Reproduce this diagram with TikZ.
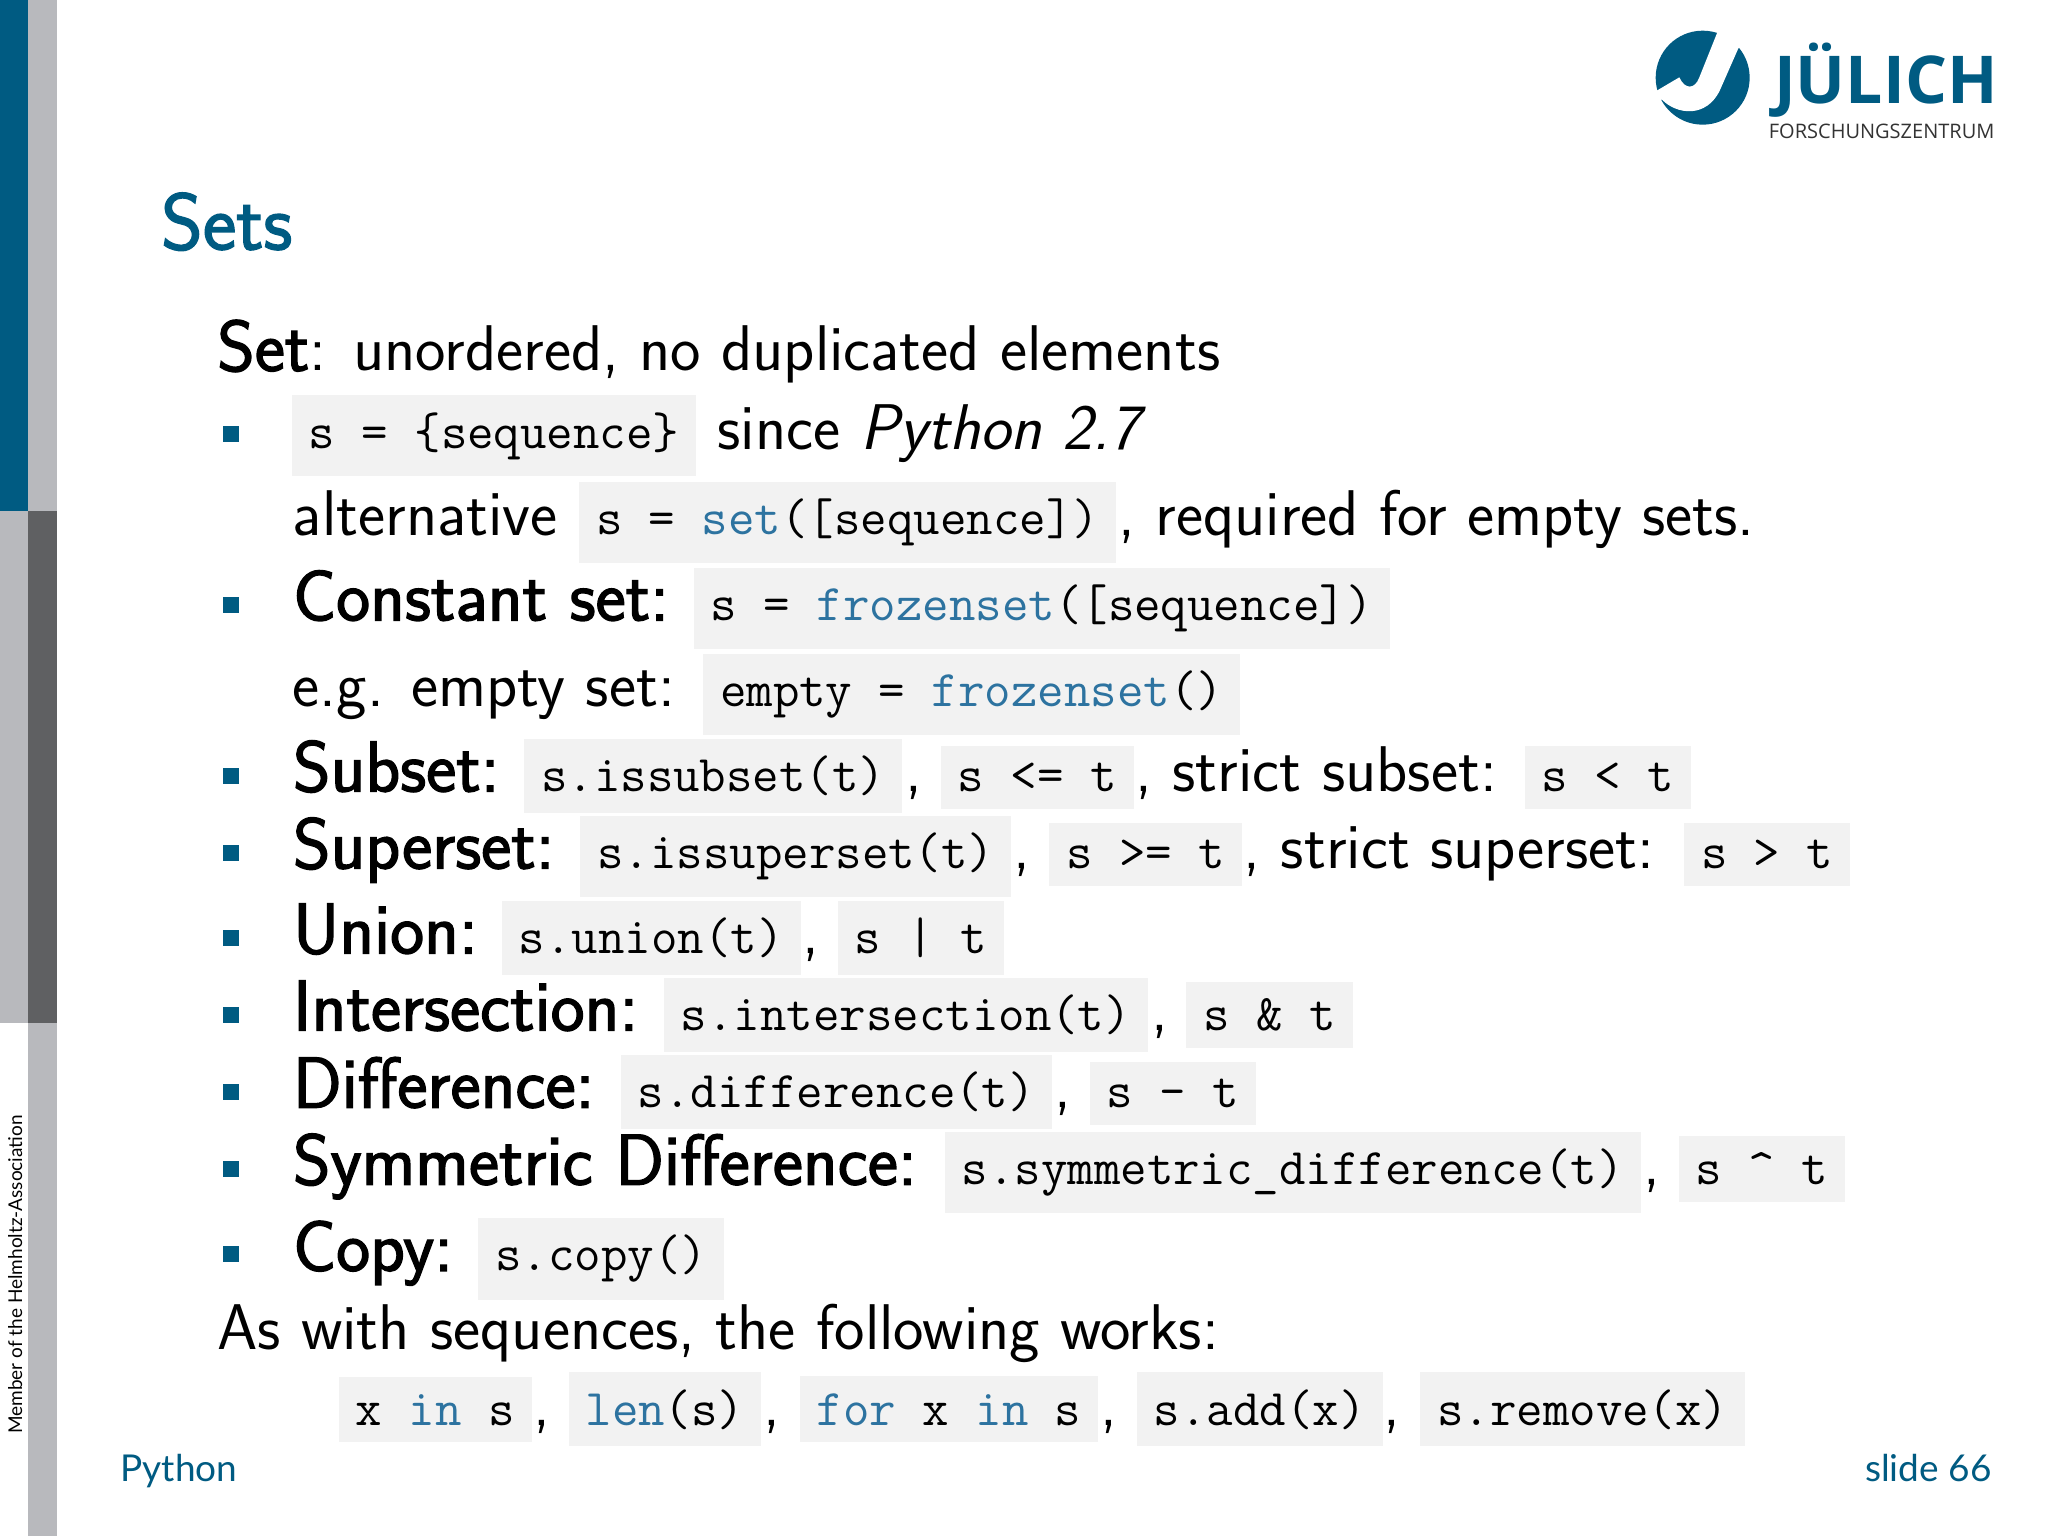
\documentclass[tikz,border=0pt]{standalone}
\usepackage{fontspec}
\usepackage{tikz}
\newfontfamily\footfont{Lato}
\newfontfamily\logofont{Open Sans}
\newfontfamily\headfont[FakeBold=1.8]{Latin Modern Sans}
\definecolor{fzblue}{RGB}{0,91,130}
\definecolor{barblue}{RGB}{0,91,130}
\definecolor{bargray}{RGB}{184,185,189}
\definecolor{bardark}{RGB}{95,96,98}
\definecolor{codegray}{RGB}{242,242,242}
\definecolor{keyblue}{RGB}{45,115,160}
\newcommand{\kw}[1]{\textcolor{keyblue}{#1}}
\tikzset{
  plaintext/.style={anchor=base west, inner sep=0pt, font=\sffamily\fontsize{32.3}{38}\selectfont},
  headtext/.style={anchor=base west, inner sep=0pt, font=\headfont\fontsize{36}{42}\selectfont},
  codebox/.style={anchor=base west, fill=codegray, inner xsep=8.5pt, inner ysep=8.5pt, font=\ttfamily\fontsize{25.7}{30}\selectfont},
  bulletbox/.style={fill=fzblue, minimum size=8pt, inner sep=0pt},
  foottext/.style={inner sep=0pt, text=fzblue, font=\footfont\fontsize{18.5}{22}\selectfont}
}
\begin{document}
\begin{tikzpicture}[x=0.65306pt,y=-0.65306pt]
  \useasboundingbox (0,0) rectangle (1568,1176);
  \fill[white] (0,0) rectangle (1568,1176);

  % Side bar
  \fill[barblue] (0,0) rectangle (21.5,391);
  \fill[bargray] (21.5,0) rectangle (43.4,391);
  \fill[bargray] (0,391) rectangle (21.5,783);
  \fill[bardark] (21.5,391) rectangle (43.4,783);
  \fill[bargray] (21.5,783) rectangle (43.4,1176);
  \node[rotate=90, anchor=base west, inner sep=0pt, font=\footfont\fontsize{9.5}{12}\selectfont] (member) at (17,1098) {Member of the Helmholtz-Association};

  % Logo
  \begin{scope}[shift={(1240.3,0)},x=0.16667pt,y=-0.16667pt]
    \fill[fzblue] (248,233) circle (141);
    \fill[white] (285,70) -- (292,97) -- (238,232) .. controls (225,268) and (195,270) .. (178,232) -- (100,278) -- (118,305) -- (125,298)
      .. controls (170,345) and (260,355) .. (300,270) -- (355,145) -- (375,130) -- cycle;
  \end{scope}
  \node[anchor=base west, inner sep=0pt, text=fzblue, font=\logofont\bfseries\fontsize{33}{36}\selectfont] (julich) at (1358,79) {JÜLICH};
  \node[anchor=base west, inner sep=0pt, text=black!80, font=\logofont\fontsize{10}{12}\selectfont] (forschung) at (1354,106) {FORSCHUNGSZENTRUM};

  % Title
  \node[anchor=base west, inner sep=0pt, text=fzblue, font=\headfont\fontsize{40}{44}\selectfont] (title) at (123,191) {Sets};

  % Set
  \node[plaintext] (setline) at (166,284) {{\headfont\fontsize{36}{42}\selectfont Set}: unordered, no duplicated elements};

  \foreach \y [count=\i] in {332,463,594,653,718,777,836,895,960}
    \node[bulletbox] (bullet\i) at (177,\y) {};

  \node[codebox] (setcode) at (223,343) {s = \{sequence\}};
  \node[plaintext] (since) at (549,344) {since \textit{Python 2.7}};

  \node[plaintext] (alternative) at (224,410) {alternative};
  \node[codebox] (altcode) at (443,409) {s = \kw{set}([sequence])};
  \node[plaintext] (required) at (856,410) {, required for empty sets.};

  % Constant set
  \node[headtext] (constant) at (224,475) {Constant set:};
  \node[codebox] (constcode) at (531,475) {s = \kw{frozenset}([sequence])};
  \node[plaintext] (emptyset) at (224,541) {e.g. empty set:};
  \node[codebox] (emptycode) at (538,541) {empty = \kw{frozenset}()};

  % Subset and superset
  \node[headtext] (subset) at (224,606) {Subset:};
  \node[codebox] (subcode) at (401,606) {s.issubset(t)};
  \node[plaintext] (subcomma) at (693,606) {,};
  \node[codebox] (subleq) at (720,606) {s <= t};
  \node[plaintext] (strictsub) at (869,606) {, strict subset:};
  \node[codebox] (sublt) at (1167,606) {s < t};
  \node[headtext] (superset) at (224,665) {Superset:};
  \node[codebox] (supcode) at (444,665) {s.issuperset(t)};
  \node[plaintext] (supcomma) at (776,665) {,};
  \node[codebox] (supgeq) at (803,665) {s >= t};
  \node[plaintext] (strictsup) at (952,665) {, strict superset:};
  \node[codebox] (supgt) at (1289,665) {s > t};

  % Set operations
  \node[headtext] (union) at (224,730) {Union:};
  \node[codebox] (unioncode) at (384,730) {s.union(t)};
  \node[plaintext] (unioncomma) at (614,730) {,};
  \node[codebox] (unionop) at (641,730) {s | t};
  \node[headtext] (inter) at (224,789) {Intersection:};
  \node[codebox] (intercode) at (508,789) {s.intersection(t)};
  \node[plaintext] (intercomma) at (881,789) {,};
  \node[codebox] (interop) at (908,789) {s \& t};
  \node[headtext] (diff) at (224,848) {Difference:};
  \node[codebox] (diffcode) at (475,848) {s.difference(t)};
  \node[plaintext] (diffcomma) at (807,848) {,};
  \node[codebox] (diffop) at (834,848) {s - t};
  \node[headtext] (symm) at (224,907) {Symmetric Difference:};
  \node[codebox] (symmcode) at (723,907) {s.symmetric\_difference(t)};
  \node[plaintext] (symmcomma) at (1258,907) {,};
  \node[codebox] (symmop) at (1285,907) {s \textasciicircum{} t};
  \node[headtext] (copy) at (224,973) {Copy:};
  \node[codebox] (copycode) at (366,973) {s.copy()};

  % Sequences
  \node[plaintext] (aswith) at (166,1033) {As with sequences, the following works:};
  \node[codebox] (incode) at (259,1091) {x \kw{in} s};
  \node[plaintext] (incomma) at (408,1091) {,};
  \node[codebox] (lencode) at (435,1091) {\kw{len}(s)};
  \node[plaintext] (lencomma) at (584,1091) {,};
  \node[codebox] (forcode) at (612,1091) {\kw{for} x \kw{in} s};
  \node[plaintext] (forcomma) at (842,1091) {,};
  \node[codebox] (addcode) at (870,1091) {s.add(x)};
  \node[plaintext] (addcomma) at (1059,1091) {,};
  \node[codebox] (removecode) at (1087,1091) {s.remove(x)};

  % Footer
  \node[foottext, anchor=base west] (python) at (92,1134) {Python};
  \node[foottext, anchor=base east] (slidenum) at (1525,1134) {slide 66};
\end{tikzpicture}
\end{document}
